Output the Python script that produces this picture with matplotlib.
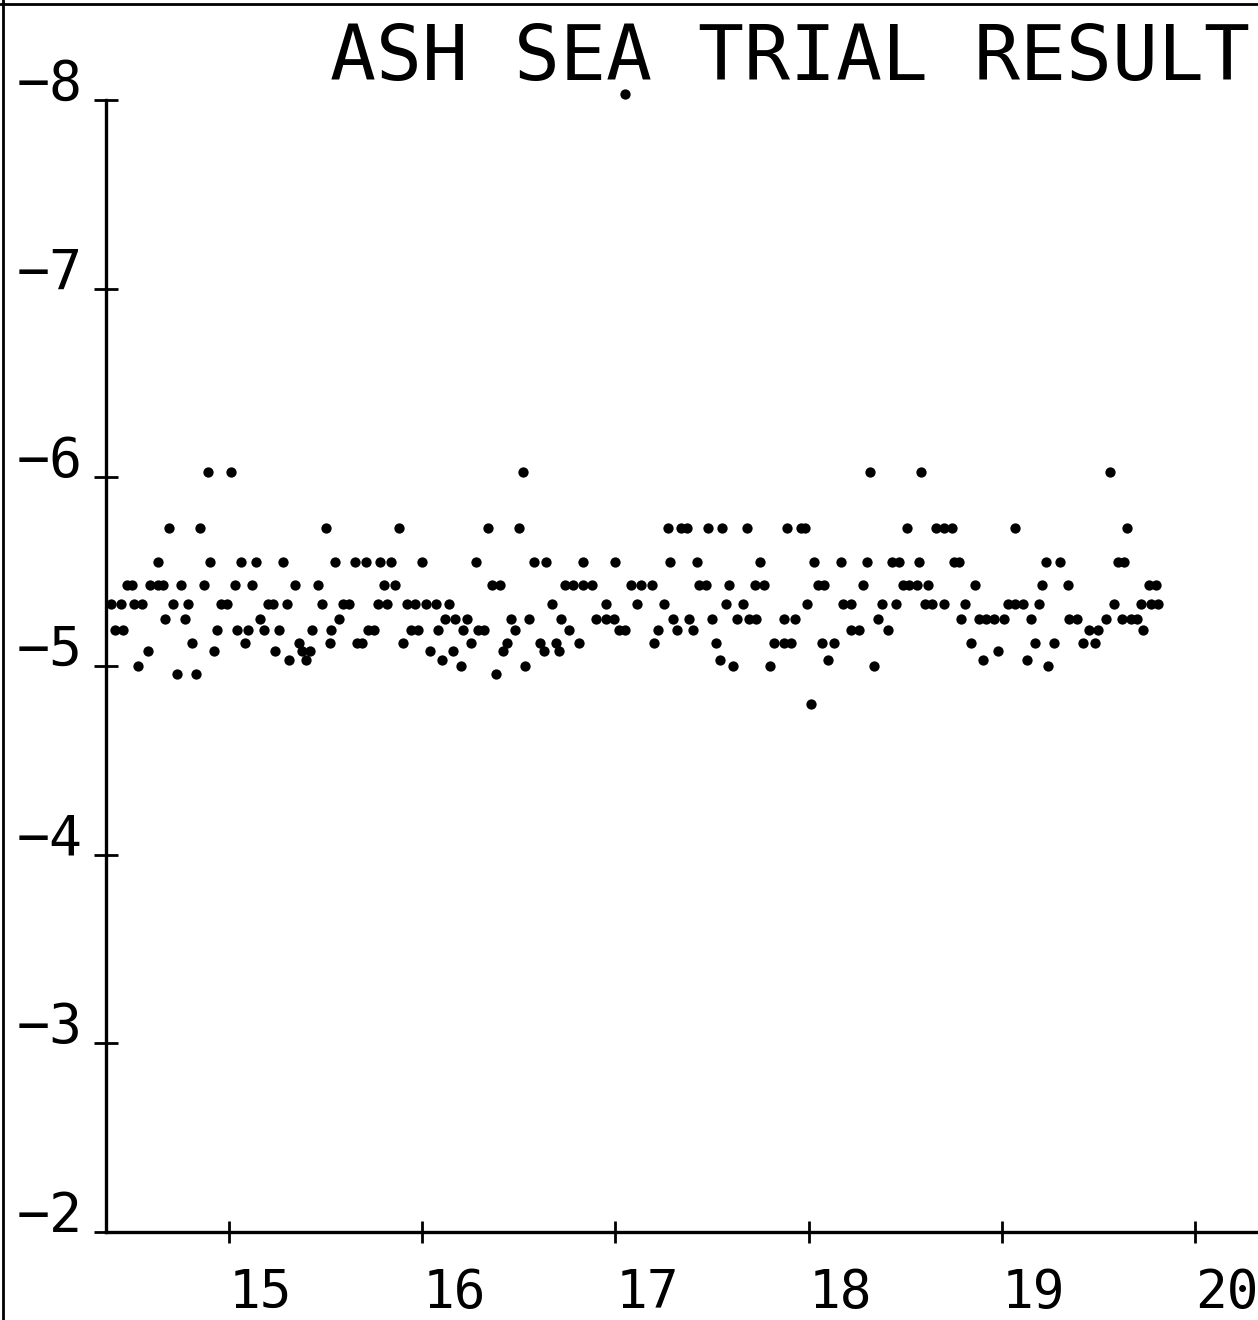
import matplotlib
matplotlib.use("Agg")
import matplotlib.pyplot as plt
from matplotlib.lines import Line2D

title = "ASH SEA TRIAL RESULT"

x_ticks = [15, 16, 17, 18, 19, 20]
x_tick_labels = ["15", "16", "17", "18", "19", "20"]
y_ticks = [-8, -7, -6, -5, -4, -3, -2]
y_tick_labels = ["\u22128", "\u22127", "\u22126", "\u22125", "\u22124", "\u22123", "\u22122"]

# readings are quantised, so keep the sample times per level
x_at_603 = [14.89, 15.01, 16.52, 18.32, 18.58, 19.56]
x_at_573 = [14.69, 14.85, 15.50, 15.88, 16.34, 16.50, 17.27, 17.34, 17.37, 17.48,
            17.55, 17.68, 17.89, 17.96, 17.98, 18.51, 18.66, 18.70, 18.74, 19.07, 19.65]
x_at_555 = [14.63, 14.90, 15.06, 15.14, 15.28, 15.55, 15.65, 15.71, 15.78, 15.84,
            16.00, 16.28, 16.58, 16.64, 16.83, 17.00, 17.28, 17.42, 17.75, 18.03,
            18.17, 18.30, 18.43, 18.47, 18.57, 18.75, 18.78, 19.23, 19.30, 19.60, 19.63]
x_at_543 = [14.47, 14.50, 14.59, 14.63, 14.66, 14.75, 14.87, 15.03, 15.12, 15.34,
            15.46, 15.80, 15.86, 16.36, 16.40, 16.74, 16.78, 16.83, 16.88, 17.08,
            17.13, 17.19, 17.43, 17.47, 17.59, 17.72, 17.77, 18.05, 18.08, 18.28,
            18.49, 18.52, 18.56, 18.62, 18.86, 19.21, 19.34, 19.76, 19.80]
x_at_533 = [14.39, 14.44, 14.51, 14.55, 14.71, 14.79, 14.96, 14.99, 15.20, 15.23,
            15.30, 15.48, 15.59, 15.62, 15.77, 15.82, 15.92, 15.96, 16.02, 16.07,
            16.14, 16.67, 16.95, 17.11, 17.25, 17.57, 17.66, 17.99, 18.18, 18.22,
            18.38, 18.45, 18.60, 18.64, 18.70, 18.81, 19.03, 19.07, 19.11, 19.19,
            19.58, 19.72, 19.77, 19.81]
x_at_525 = [14.67, 14.77, 15.16, 15.57, 16.12, 16.17, 16.23, 16.46, 16.55, 16.72,
            16.90, 16.95, 16.99, 17.30, 17.38, 17.50, 17.63, 17.69, 17.73, 17.87,
            17.93, 18.36, 18.79, 18.88, 18.92, 18.96, 19.01, 19.15, 19.35, 19.39,
            19.54, 19.62, 19.67, 19.70]
x_at_519 = [14.41, 14.45, 14.94, 15.04, 15.10, 15.18, 15.26, 15.43, 15.53, 15.72,
            15.75, 15.94, 15.98, 16.08, 16.21, 16.29, 16.32, 16.48, 16.76, 17.02,
            17.05, 17.22, 17.32, 17.40, 18.22, 18.26, 18.41, 19.45, 19.50, 19.73]
x_at_512 = [14.81, 15.08, 15.36, 15.52, 15.66, 15.69, 15.90, 16.25, 16.44, 16.61,
            16.69, 16.81, 17.20, 17.52, 17.82, 17.87, 17.91, 18.07, 18.13, 18.84,
            19.17, 19.27, 19.42, 19.48]
x_at_508 = [14.58, 14.92, 15.24, 15.38, 15.42, 16.04, 16.16, 16.42, 16.63, 16.71, 18.98]
x_at_503 = [15.31, 15.40, 16.10, 17.54, 18.10, 18.90, 19.13]
x_at_500 = [14.53, 16.20, 16.53, 17.61, 17.80, 18.34, 19.24]
x_at_496 = [14.73, 14.83, 16.38]
x_at_480 = [18.01]
x_at_803 = [17.05]

levels = [-6.03, -5.73, -5.55, -5.43, -5.33, -5.25, -5.19, -5.12, -5.08, -5.03,
          -5.00, -4.96, -4.80, -8.03]
level_times = [x_at_603, x_at_573, x_at_555, x_at_543, x_at_533, x_at_525, x_at_519,
               x_at_512, x_at_508, x_at_503, x_at_500, x_at_496, x_at_480, x_at_803]

xs = []
ys = []
for level, times in zip(levels, level_times):
    xs.extend(times)
    ys.extend([level] * len(times))

plt.rcParams["font.family"] = ["DejaVu Sans Mono", "DejaVu Sans"]

W, H = 1258, 1320
fig = plt.figure(figsize=(W / 100, H / 100), dpi=100)
ax = fig.add_axes([106 / W, 88 / H, (W - 106) / W, (1232 - 100) / H])

ax.scatter(xs, ys, s=55, marker="o", color="black", linewidths=0, clip_on=False, zorder=3)

ax.set_xlim(14.363, 20.326)
ax.set_ylim(-2, -8)

for side in ["top", "right"]:
    ax.spines[side].set_visible(False)
for side in ["left", "bottom"]:
    ax.spines[side].set_linewidth(2.4)

ax.set_xticks(x_ticks, x_tick_labels)
ax.set_yticks(y_ticks, y_tick_labels)
ax.tick_params(axis="y", direction="inout", length=17, width=2, pad=8, labelsize=39.5)
ax.tick_params(axis="x", direction="inout", length=16, width=2, pad=17, labelsize=38)
for lab in ax.get_yticklabels():
    lab.set_verticalalignment("baseline")
for lab in ax.get_xticklabels():
    lab.set_horizontalalignment("left")

fig.text(1250 / W, 1 - 80 / H, title, ha="right", va="baseline", fontsize=55)

# page frame from the plotter sheet
fig.add_artist(Line2D([3 / W, 3 / W], [0, 1], transform=fig.transFigure, color="black", lw=2))
fig.add_artist(Line2D([0, 1], [1 - 4 / H, 1 - 4 / H], transform=fig.transFigure, color="black", lw=2))

fig.savefig("out.png", dpi=100)
